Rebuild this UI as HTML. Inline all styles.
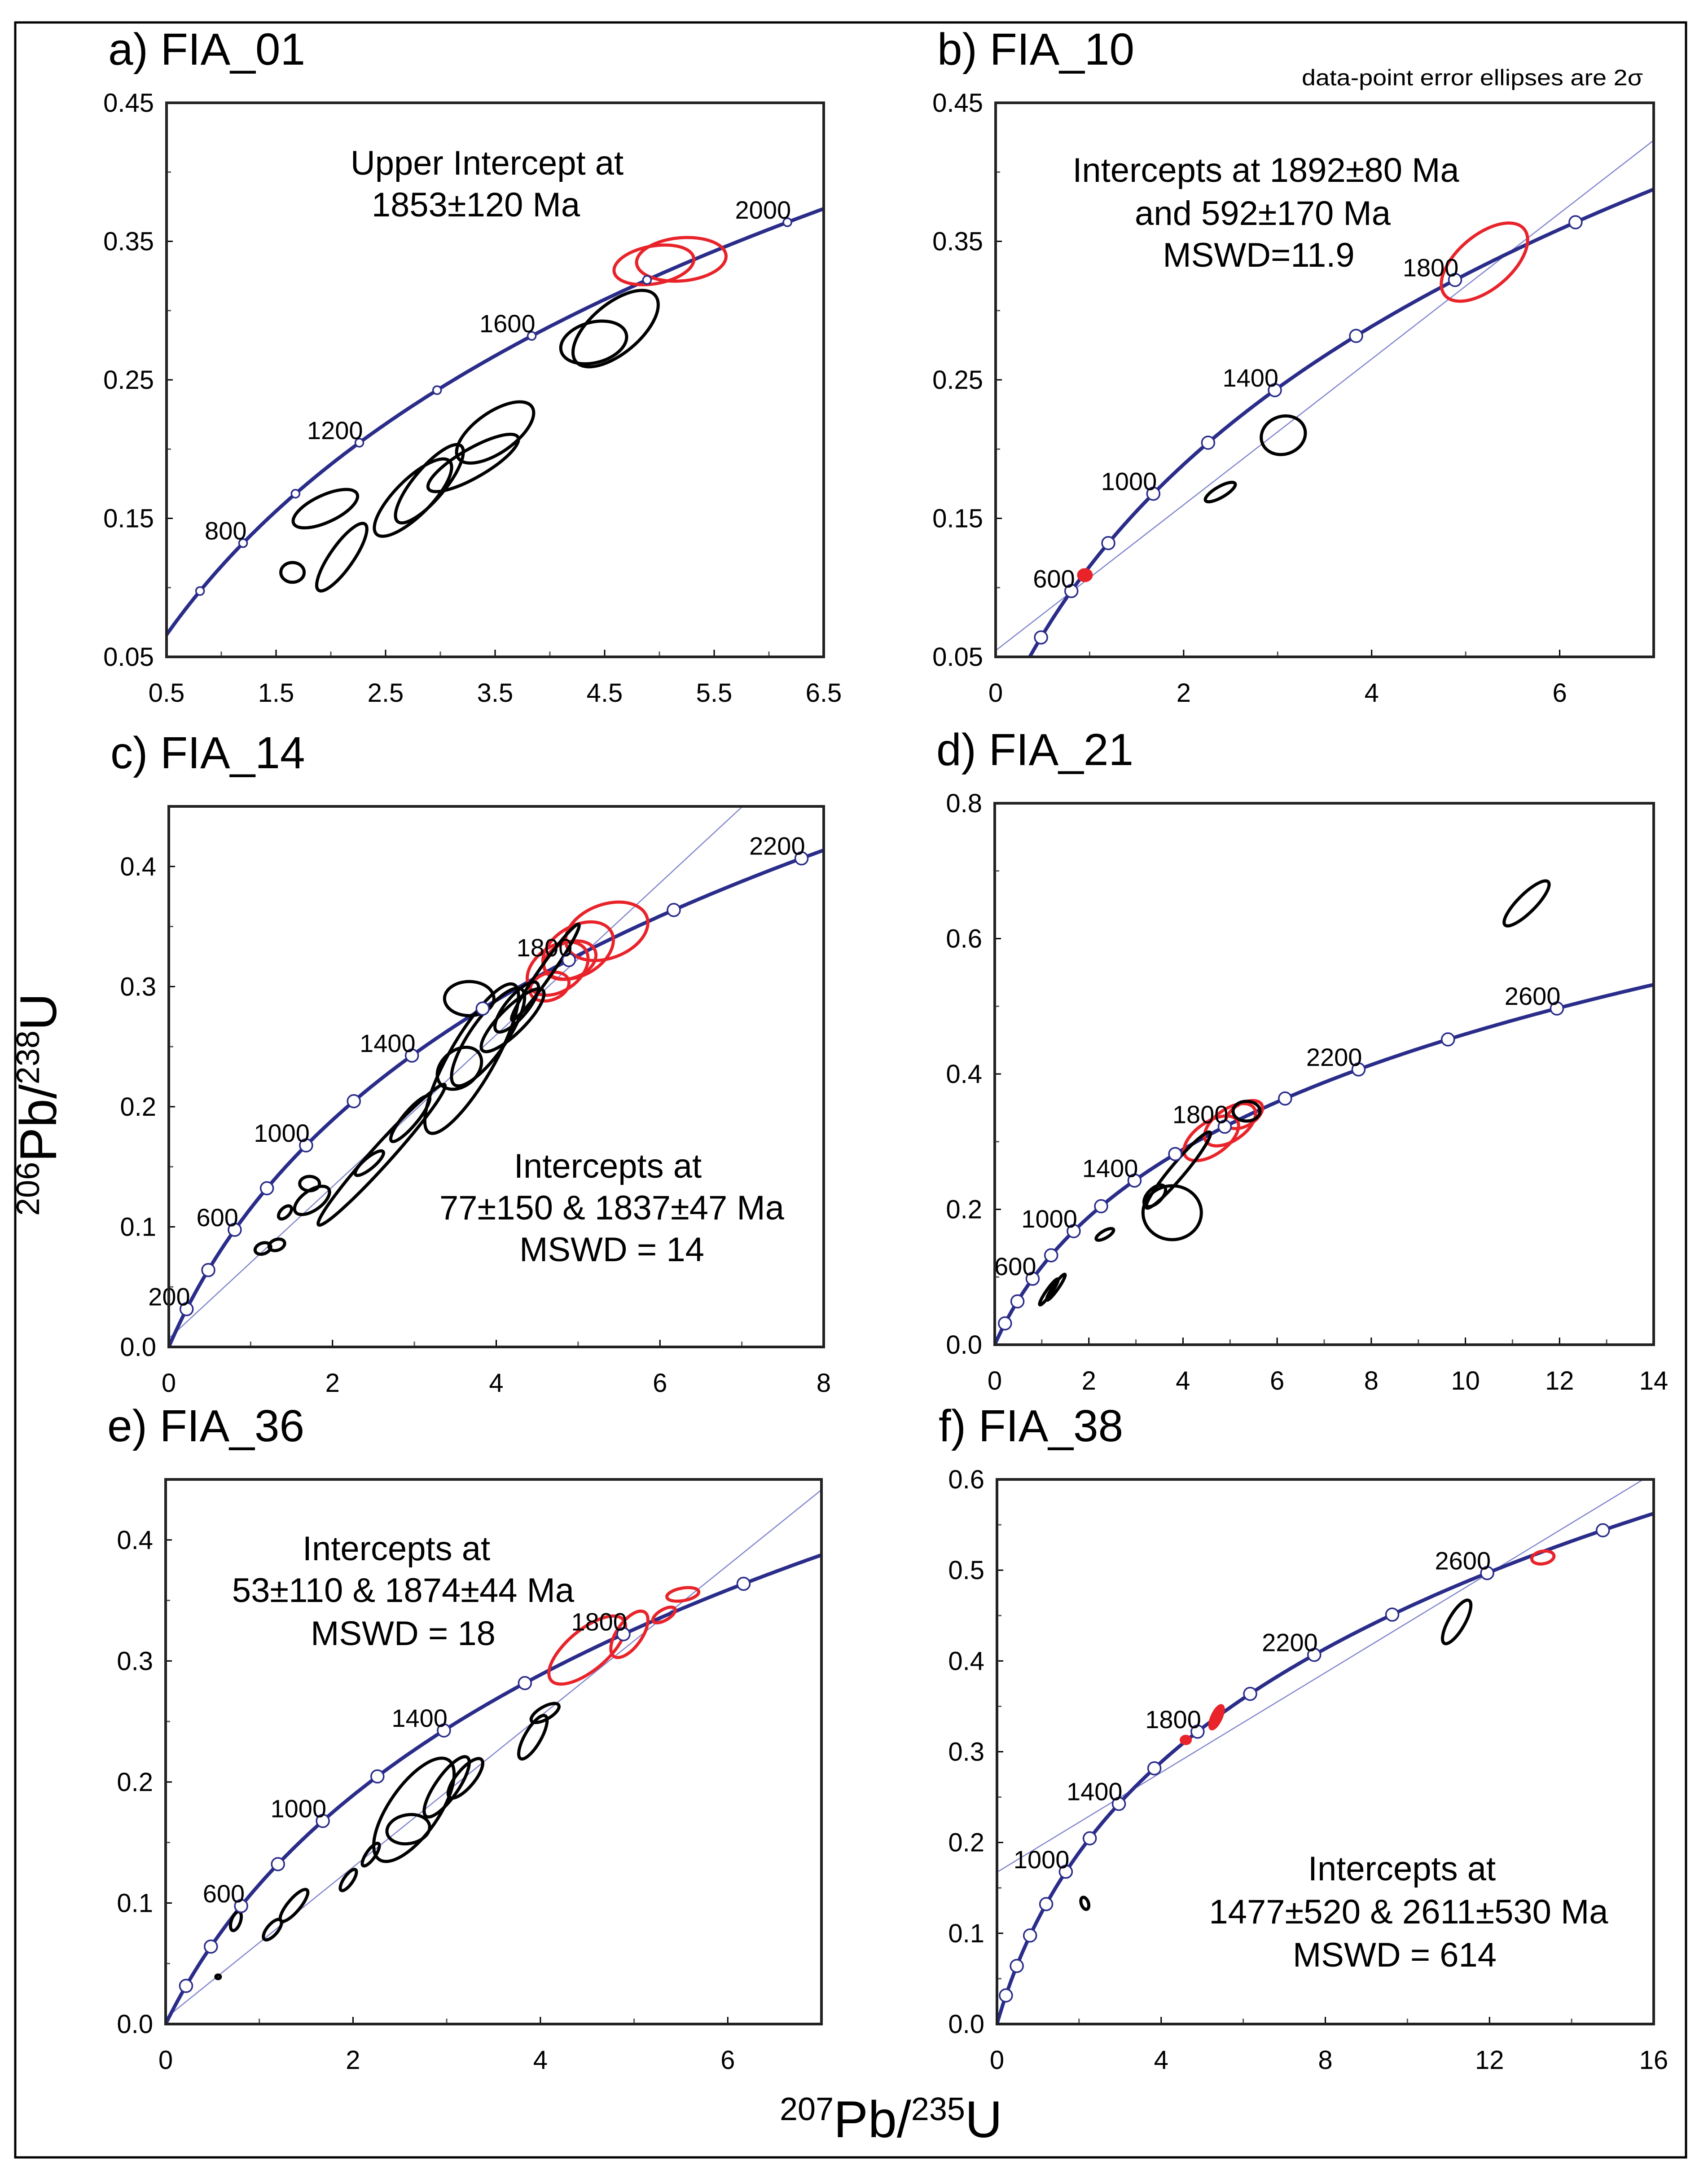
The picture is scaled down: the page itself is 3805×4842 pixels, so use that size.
<!DOCTYPE html>
<html><head><meta charset="utf-8"><style>
html,body{margin:0;padding:0;background:#fff;width:3805px;height:4842px;overflow:hidden;}
svg{display:block;font-family:"Liberation Sans",sans-serif;}
</style></head><body>
<svg id="fig" xmlns="http://www.w3.org/2000/svg" width="3805" height="4842" viewBox="0 0 3805 4842">
<rect x="34" y="50" width="3722" height="4755" fill="#fff" stroke="#000" stroke-width="5"/>
<text x="3660" y="190" text-anchor="end" font-size="50" textLength="760" lengthAdjust="spacingAndGlyphs">data-point error ellipses are 2σ</text>
<text transform="translate(125,2460) rotate(-90)" text-anchor="middle" font-size="115"><tspan font-size="72" dy="-38">206</tspan><tspan dy="38">Pb/</tspan><tspan font-size="72" dy="-38">238</tspan><tspan dy="38">U</tspan></text>
<text x="1985" y="4760" text-anchor="middle" font-size="115"><tspan font-size="72" dy="-38">207</tspan><tspan dy="38">Pb/</tspan><tspan font-size="72" dy="-38">235</tspan><tspan dy="38">U</tspan></text>
</svg>
<script>
// ---- data ----
const aTitle = "a) FIA_01";
const aXTicks = [0.5,1.5,2.5,3.5,4.5,5.5,6.5];
const aYTicks = [0.05,0.15,0.25,0.35,0.45];
const aAges = [600,800,1000,1200,1400,1600,1800,2000];
const aAgeLabels = [800,1200,1600,2000];
const aEllX = [4.95,5.2,4.6,4.4,3.5,3.3,2.9,2.75,1.95,1.65,2.1];
const aEllY = [0.333,0.337,0.287,0.277,0.212,0.190,0.175,0.165,0.157,0.111,0.122];
const aEllRed = [1,1,0,0,0,0,0,0,0,0,0];
const aNote = ["Upper Intercept at","1853±120 Ma"];

const bTitle = "b) FIA_10";
const bXTicks = [0,2,4,6];
const bYTicks = [0.05,0.15,0.25,0.35,0.45];
const bAges = [400,600,800,1000,1200,1400,1600,1800,2000];
const bAgeLabels = [600,1000,1400,1800];
const bIntercepts = [592,1892];
const bEllX = [5.2,0.95,3.06,2.39];
const bEllY = [0.335,0.109,0.21,0.169];
const bEllRed = [1,2,0,0];
const bNote = ["Intercepts at 1892±80 Ma","and 592±170 Ma","MSWD=11.9"];

const cTitle = "c) FIA_14";
const cXTicks = [0,2,4,6,8];
const cYTicks = [0.0,0.1,0.2,0.3,0.4];
const cAges = [200,400,600,800,1000,1200,1400,1600,1800,2000,2200];
const cAgeLabels = [200,600,1000,1400,1800,2200];
const cIntercepts = [77,1837];
const cEllX = [5.35,5.0,4.75,4.9,4.65,3.67,3.7,3.9,4.2,4.25,4.6,3.55,2.6,2.95,2.45,1.75,1.72,1.42,1.15,1.32];
const cEllY = [0.346,0.33,0.315,0.322,0.300,0.290,0.240,0.258,0.272,0.283,0.312,0.232,0.160,0.19,0.153,0.122,0.136,0.112,0.082,0.085];
const cEllRed = [1,1,1,1,1,0,0,0,0,0,0,0,0,0,0,0,0,0,0,0];
const cNote = ["Intercepts at","77±150 & 1837±47 Ma","MSWD = 14"];

const dTitle = "d) FIA_21";
const dXTicks = [0,2,4,6,8,10,12,14];
const dYTicks = [0.0,0.2,0.4,0.6,0.8];
const dAges = [200,400,600,800,1000,1200,1400,1600,1800,2000,2200,2400,2600];
const dAgeLabels = [600,1000,1400,1800,2200,2600];
const dEllX = [4.6,5.0,5.3,11.3,3.77,3.9,3.4,2.34,1.3,1.15,5.35];
const dEllY = [0.305,0.325,0.340,0.652,0.195,0.258,0.22,0.163,0.085,0.078,0.345];
const dEllRed = [1,1,1,0,0,0,0,0,0,0,0];

const eTitle = "e) FIA_36";
const eXTicks = [0,2,4,6];
const eYTicks = [0.0,0.1,0.2,0.3,0.4];
const eAges = [200,400,600,800,1000,1200,1400,1600,1800,2000];
const eAgeLabels = [600,1000,1400,1800];
const eIntercepts = [53,1874];
const eEllX = [4.5,4.95,5.32,5.52,3.92,4.05,2.65,3.0,3.2,2.59,2.19,1.95,1.37,1.14,0.75,0.56];
const eEllY = [0.309,0.322,0.338,0.355,0.237,0.257,0.177,0.196,0.203,0.161,0.140,0.119,0.098,0.078,0.085,0.039];
const eEllRed = [1,1,1,1,0,0,0,0,0,0,0,0,0,0,0,0];
const eNote = ["Intercepts at","53±110 & 1874±44 Ma","MSWD = 18"];

const fTitle = "f) FIA_38";
const fXTicks = [0,4,8,12,16];
const fYTicks = [0.0,0.1,0.2,0.3,0.4,0.5,0.6];
const fAges = [200,400,600,800,1000,1200,1400,1600,1800,2000,2200,2400,2600,2800];
const fAgeLabels = [1000,1400,1800,2200,2600];
const fIntercepts = [1477,2611];
const fEllX = [13.3,4.6,5.35,11.2,2.14];
const fEllY = [0.514,0.313,0.338,0.443,0.133];
const fEllRed = [1,2,2,0,0];
const fNote = ["Intercepts at","1477±520 & 2611±530 Ma","MSWD = 614"];

// ---- ellipse shapes (pixel semi-axes, rotation) ----
const aShape=[[90,42,-10],[100,48,-5],[115,55,-40],[75,45,-15],[100,45,-35],[115,32,-30],[110,35,-50],[115,40,-45],[78,30,-25],[26,22,0],[90,26,-55]];
const bShape=[[115,60,-40],[14,12,0],[50,42,-20],[38,12,-30]];
const cShape=[[95,60,-20],[85,55,-30],[75,50,-35],[60,40,-20],[45,30,-20],[55,38,0],[190,50,-60],[130,40,-55],[95,28,-45],[70,24,-50],[130,14,-55],[55,40,-40],[210,22,-48],[65,16,-50],[40,12,-40],[45,22,-35],[22,16,0],[18,10,-45],[18,12,-20],[18,12,-20]];
const dShape=[[70,36,-35],[65,35,-35],[45,25,-30],[68,20,-45],[65,60,0],[110,16,-50],[30,16,-45],[22,8,-30],[35,6,-55],[35,6,-55],[30,22,0]];
const eShape=[[105,45,-40],[60,28,-55],[28,12,-30],[36,14,-10],[55,18,-60],[35,14,-30],[135,55,-55],[80,25,-55],[55,20,-50],[48,32,-10],[30,10,-55],[28,10,-55],[45,14,-50],[28,12,-50],[22,10,-70],[5,4,0]];
const fShape=[[25,14,-10],[10,8,0],[28,10,-65],[55,18,-60],[8,14,-20]];

const L5=9.8485e-4, L8=1.55125e-4;
function conc(t){return [Math.exp(L5*t)-1, Math.exp(L8*t)-1];}
const NS="http://www.w3.org/2000/svg";
const svg=document.getElementById('fig');
function mk(tag,attrs,parent){const e=document.createElementNS(NS,tag);for(const k in attrs)e.setAttribute(k,attrs[k]);(parent||svg).appendChild(e);return e;}

function panel(id,box,xr,yr,title,xt,yt,ages,labels,intercepts,ex,ey,ered,shape,note,noteXY,markerR,fmtY){
  const [L,R,T,B]=box;
  const sx=v=>L+(v-xr[0])/(xr[1]-xr[0])*(R-L);
  const sy=v=>B-(v-yr[0])/(yr[1]-yr[0])*(B-T);
  const g=mk('g',{});
  
  
  const cp=mk('clipPath',{id:'clip'+id},g);
  mk('rect',{x:L,y:T,width:R-L,height:B-T},cp);
  const tt=mk('text',{x:box[0]-130,y:T-85,'font-size':100},g);
  
  
  tt.textContent=title;
  yt.forEach((v,i)=>{
    const y=sy(v);
    const tl=mk('text',{x:L-28,y:y+20,'text-anchor':'end','font-size':58},g);
    
    
    tl.textContent=fmtY(v);
    mk('line',{x1:L,x2:L+14,y1:y,y2:y,stroke:'#000','stroke-width':3},g);
    if(i<yt.length-1){const ym=sy((v+yt[i+1])/2);mk('line',{x1:L,x2:L+10,y1:ym,y2:ym,stroke:'#555','stroke-width':3},g);}
  });
  xt.forEach((v,i)=>{
    const x=sx(v);
    const tl=mk('text',{x:x,y:B+100,'text-anchor':'middle','font-size':58},g);
    
    
    tl.textContent=String(v);
    mk('line',{x1:x,x2:x,y1:B,y2:B-16,stroke:'#000','stroke-width':3},g);
    if(i<xt.length-1){const xm=sx((v+xt[i+1])/2);mk('line',{x1:xm,x2:xm,y1:B,y2:B-12,stroke:'#555','stroke-width':3},g);}
  });
  const inner=mk('g',{'clip-path':'url(#clip'+id+')'},g);
  if(intercepts){
    const p1=conc(intercepts[0]),p2=conc(intercepts[1]);
    const dx=p2[0]-p1[0],dy=p2[1]-p1[1];
    let s0=-1e9,s1=1e9;
    const lim=(p,dp,lo,hi)=>{if(Math.abs(dp)<1e-12)return;let a=(lo-p)/dp,b=(hi-p)/dp;if(a>b)[a,b]=[b,a];s0=Math.max(s0,a);s1=Math.min(s1,b);};
    lim(p1[0],dx,xr[0],xr[1]);lim(p1[1],dy,yr[0],yr[1]);
    if(s1>s0){
      const dl=mk('line',{x1:sx(p1[0]+dx*s0),y1:sy(p1[1]+dy*s0),x2:sx(p1[0]+dx*s1),y2:sy(p1[1]+dy*s1),stroke:'#7f84cc','stroke-width':2.5},inner);
      
      
    }
  }
  let d='';
  for(let t=0;t<=4000;t+=5){const p=conc(t);if(p[0]>xr[1]*1.05)break;d+=(t?'L':'M')+sx(p[0]).toFixed(1)+','+sy(p[1]).toFixed(1);}
  const cc=mk('path',{d:d,fill:'none',stroke:'#2a2c8a','stroke-width':8},inner);
  
  
  ex.forEach((v,i)=>{
    const cx=sx(v),cy=sy(ey[i]),s=shape[i]||[30,20,0];
    const col=ered[i]?'#e8232a':'#000';
    const el=mk('ellipse',{cx:cx,cy:cy,rx:s[0],ry:s[1],transform:'rotate('+s[2]+' '+cx+' '+cy+')',fill:ered[i]===2?col:'none',stroke:col,'stroke-width':7},inner);
    
    
  });
  ages.forEach(t=>{
    const p=conc(t);
    const m=mk('circle',{cx:sx(p[0]),cy:sy(p[1]),r:markerR,fill:'#fff',stroke:'#2a2c8a','stroke-width':3.5},inner);
    
    
  });
  labels.forEach(t=>{
    const p=conc(t);
    const lb=mk('text',{x:sx(p[0])+8,y:sy(p[1])-8,'text-anchor':'end','font-size':56},g);
    
    
    lb.textContent=String(t);
  });
  if(note){
    note.forEach((s,i)=>{
      const nt=mk('text',{x:noteXY[i][0],y:noteXY[i][1]+27,'text-anchor':'middle','font-size':76},g);
      
      
      nt.textContent=s;
    });
  }
  mk('rect',{x:L,y:T,width:R-L,height:B-T,fill:'none',stroke:'#222','stroke-width':6},g);
}
const f2=v=>v.toFixed(2), f1=v=>v.toFixed(1);
panel('a',[371,1835,229,1463],[0.5,6.5],[0.05,0.45],aTitle,aXTicks,aYTicks,aAges,aAgeLabels,null,aEllX,aEllY,aEllRed,aShape,aNote,[[1085,362],[1060,455]],9,f2);
panel('b',[2218,3684,229,1463],[0,7],[0.05,0.45],bTitle,bXTicks,bYTicks,bAges,bAgeLabels,bIntercepts,bEllX,bEllY,bEllRed,bShape,bNote,[[2820,378],[2813,474],[2804,567]],14,f2);
panel('c',[376,1835,1796,3000],[0,8],[0,0.45],cTitle,cXTicks,cYTicks,cAges,cAgeLabels,cIntercepts,cEllX,cEllY,cEllRed,cShape,cNote,[[1354,2596],[1363,2689],[1363,2782]],14,f1);
panel('d',[2216,3684,1789,2995],[0,14],[0,0.8],dTitle,dXTicks,dYTicks,dAges,dAgeLabels,null,dEllX,dEllY,dEllRed,dShape,null,null,14,f1);
panel('e',[369,1830,3295,4508],[0,7],[0,0.45],eTitle,eXTicks,eYTicks,eAges,eAgeLabels,eIntercepts,eEllX,eEllY,eEllRed,eShape,eNote,[[883,3448],[898,3541],[898,3637]],14,f1);
panel('f',[2221,3684,3295,4508],[0,16],[0,0.6],fTitle,fXTicks,fYTicks,fAges,fAgeLabels,fIntercepts,fEllX,fEllY,fEllRed,fShape,fNote,[[3123,4161],[3138,4257],[3107,4353]],14,f1);
</script>
</body></html>
